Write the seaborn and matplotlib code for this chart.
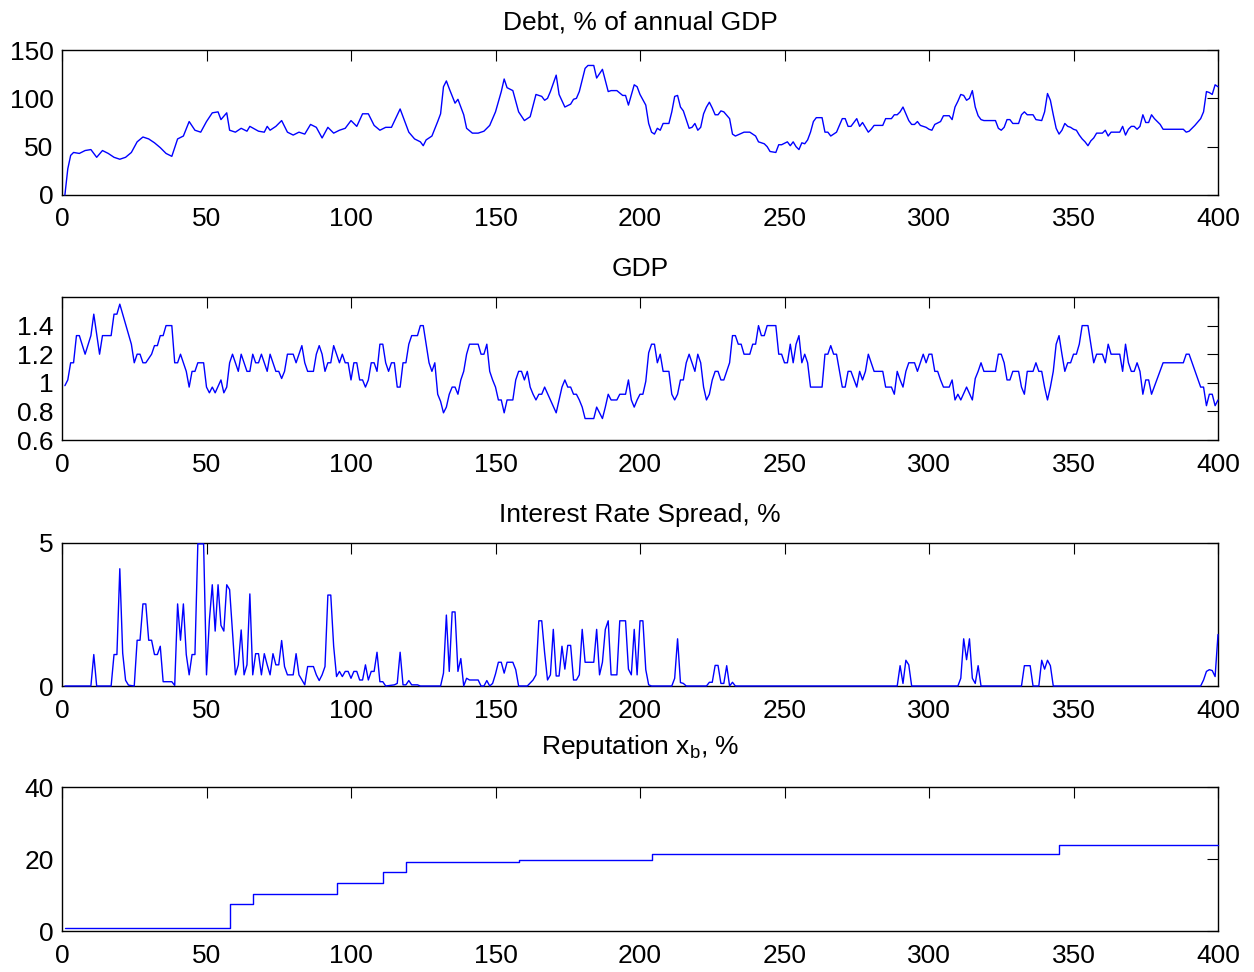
import numpy as np
import pandas as pd
import matplotlib
matplotlib.use("Agg")
import matplotlib.pyplot as plt
import seaborn as sns

# ---------------- data ----------------
debt_t = [1, 2, 3, 4, 6, 8, 10, 12, 14, 16,
          18, 20, 22, 24, 26, 28, 30, 32, 34, 36,
          38, 40, 42, 44, 46, 48, 50, 52, 54, 55,
          57, 58, 60, 62, 64, 65, 68, 70, 71, 72,
          74, 76, 78, 80, 82, 84, 86, 88, 90, 92,
          94, 96, 98, 100, 102, 104, 106, 108, 110, 112,
          114, 117, 118, 120, 122, 124, 125, 126, 128, 130,
          131, 132, 133, 134, 136, 137, 139, 140, 142, 144,
          146, 148, 150, 152, 153, 154, 156, 158, 160, 162,
          164, 166, 167, 168, 169, 171, 172, 174, 176, 177,
          178, 179, 181, 182, 184, 185, 187, 189, 190, 192,
          194, 195, 196, 198, 199, 200, 202, 203, 204, 205,
          206, 207, 208, 210, 211, 212, 213, 214, 215, 216,
          217, 218, 219, 220, 221, 222, 223, 224, 225, 226,
          227, 228, 229, 231, 232, 233, 236, 238, 240, 241,
          243, 244, 245, 247, 248, 249, 251, 252, 253, 254,
          255, 256, 257, 258, 259, 260, 261, 263, 264, 265,
          266, 268, 269, 270, 271, 272, 273, 275, 276, 277,
          278, 279, 280, 281, 284, 285, 287, 288, 289, 290,
          291, 292, 293, 294, 295, 296, 297, 299, 300, 301,
          302, 304, 305, 307, 308, 309, 310, 311, 312, 313,
          314, 315, 316, 317, 318, 319, 323, 324, 325, 326,
          327, 328, 329, 331, 332, 333, 334, 336, 337, 339,
          340, 341, 342, 343, 344, 345, 346, 347, 348, 349,
          350, 351, 352, 353, 354, 355, 356, 357, 358, 360,
          361, 362, 363, 366, 367, 368, 369, 370, 371, 372,
          373, 374, 375, 376, 377, 378, 380, 381, 388, 389,
          390, 392, 394, 395, 396, 397, 398, 399, 400]
debt = [0, 27, 41, 44, 43, 46, 47, 39, 46, 43,
        39, 37, 39, 44, 55, 60, 58, 54, 49, 43,
        40, 58, 61, 76, 67, 65, 76, 85, 86, 78,
        85, 67, 65, 69, 66, 71, 66, 65, 71, 67,
        71, 77, 65, 62, 65, 63, 73, 70, 59, 70,
        64, 67, 69, 77, 71, 84, 84, 72, 67, 70,
        70, 89, 81, 65, 58, 55, 51, 57, 61, 76,
        84, 112, 118, 110, 95, 99, 83, 69, 64, 64,
        66, 72, 86, 107, 120, 111, 108, 86, 77, 81,
        104, 102, 98, 100, 107, 124, 104, 91, 94, 99,
        100, 107, 131, 134, 134, 121, 130, 107, 108, 108,
        103, 103, 93, 114, 112, 104, 93, 74, 65, 63,
        69, 67, 74, 74, 86, 102, 103, 91, 87, 78,
        69, 70, 74, 67, 70, 84, 91, 96, 90, 83,
        83, 87, 86, 79, 63, 61, 65, 65, 61, 55,
        53, 50, 45, 44, 52, 52, 55, 51, 55, 50,
        47, 54, 53, 57, 65, 76, 80, 80, 65, 65,
        61, 65, 72, 79, 79, 71, 71, 79, 71, 75,
        70, 65, 68, 72, 72, 79, 79, 83, 83, 86,
        91, 84, 77, 73, 73, 76, 72, 70, 68, 67,
        73, 76, 82, 82, 78, 91, 97, 104, 103, 98,
        100, 108, 91, 82, 78, 77, 77, 69, 67, 70,
        78, 78, 74, 74, 83, 86, 83, 83, 78, 77,
        86, 105, 98, 83, 69, 63, 67, 74, 71, 70,
        68, 67, 62, 58, 55, 51, 56, 59, 64, 64,
        67, 61, 65, 65, 71, 62, 68, 71, 71, 68,
        71, 83, 75, 75, 83, 79, 73, 68, 68, 65,
        66, 72, 79, 86, 107, 106, 104, 114, 112]

gdp_t = [1, 2, 3, 4, 5, 6, 8, 10, 11, 13,
         14, 17, 18, 19, 20, 22, 24, 25, 26, 27,
         28, 29, 31, 32, 33, 34, 35, 36, 38, 39,
         40, 41, 43, 44, 45, 46, 47, 49, 50, 51,
         52, 53, 55, 56, 57, 58, 59, 61, 62, 64,
         65, 66, 67, 68, 69, 71, 72, 74, 75, 76,
         77, 78, 80, 81, 83, 84, 85, 87, 88, 89,
         90, 91, 92, 93, 94, 96, 97, 98, 99, 100,
         101, 102, 103, 104, 105, 106, 107, 108, 109, 110,
         111, 112, 113, 114, 115, 116, 117, 118, 119, 120,
         121, 123, 124, 125, 127, 128, 129, 130, 131, 132,
         133, 134, 135, 136, 137, 138, 139, 140, 141, 144,
         145, 146, 147, 148, 149, 150, 151, 152, 153, 154,
         156, 157, 158, 159, 160, 161, 162, 163, 164, 165,
         166, 167, 169, 171, 172, 173, 174, 175, 176, 177,
         178, 179, 180, 181, 184, 185, 186, 187, 188, 189,
         190, 192, 193, 195, 196, 197, 198, 199, 200, 201,
         202, 203, 204, 205, 206, 207, 208, 210, 211, 212,
         213, 214, 215, 216, 217, 218, 219, 220, 221, 222,
         223, 224, 225, 226, 227, 228, 229, 230, 231, 232,
         233, 234, 235, 236, 238, 239, 240, 241, 242, 243,
         244, 247, 248, 249, 250, 251, 252, 253, 254, 255,
         256, 257, 258, 259, 263, 264, 265, 266, 267, 268,
         270, 271, 272, 273, 275, 276, 277, 278, 279, 281,
         284, 285, 287, 288, 289, 290, 291, 292, 293, 295,
         296, 297, 298, 299, 300, 301, 302, 303, 304, 305,
         307, 308, 309, 310, 311, 313, 315, 316, 317, 318,
         319, 323, 324, 325, 326, 327, 328, 329, 331, 332,
         333, 334, 336, 337, 338, 339, 340, 341, 342, 343,
         344, 345, 346, 347, 348, 349, 350, 351, 352, 353,
         355, 356, 357, 358, 360, 361, 362, 363, 366, 367,
         368, 369, 370, 371, 372, 373, 374, 375, 376, 377,
         381, 388, 389, 390, 394, 395, 396, 397, 398, 399,
         400]
gdp = [0.98, 1.02, 1.14, 1.14, 1.33, 1.33, 1.20, 1.33, 1.48, 1.20,
       1.33, 1.33, 1.48, 1.48, 1.55, 1.41, 1.27, 1.14, 1.20, 1.20,
       1.14, 1.14, 1.20, 1.26, 1.26, 1.33, 1.33, 1.40, 1.40, 1.14,
       1.14, 1.20, 1.08, 0.97, 1.08, 1.08, 1.14, 1.14, 0.97, 0.93,
       0.97, 0.93, 1.02, 0.93, 0.97, 1.14, 1.20, 1.08, 1.20, 1.08,
       1.08, 1.20, 1.14, 1.14, 1.20, 1.08, 1.20, 1.08, 1.08, 1.03,
       1.08, 1.20, 1.20, 1.14, 1.26, 1.14, 1.08, 1.08, 1.20, 1.26,
       1.20, 1.08, 1.14, 1.14, 1.26, 1.14, 1.20, 1.14, 1.14, 1.02,
       1.14, 1.14, 1.02, 1.02, 0.97, 1.02, 1.14, 1.14, 1.08, 1.27,
       1.27, 1.14, 1.08, 1.14, 1.14, 0.97, 0.97, 1.14, 1.14, 1.27,
       1.33, 1.33, 1.40, 1.40, 1.14, 1.08, 1.14, 0.92, 0.87, 0.79,
       0.83, 0.92, 0.97, 0.97, 0.92, 1.02, 1.08, 1.20, 1.27, 1.27,
       1.20, 1.20, 1.27, 1.08, 1.02, 0.97, 0.88, 0.88, 0.79, 0.88,
       0.88, 1.02, 1.08, 1.08, 1.02, 1.08, 0.97, 0.92, 0.88, 0.92,
       0.92, 0.97, 0.88, 0.79, 0.88, 0.97, 1.02, 0.97, 0.97, 0.92,
       0.92, 0.88, 0.83, 0.75, 0.75, 0.83, 0.79, 0.75, 0.83, 0.92,
       0.88, 0.88, 0.92, 0.92, 1.02, 0.88, 0.83, 0.88, 0.92, 0.92,
       1.01, 1.21, 1.27, 1.27, 1.14, 1.20, 1.08, 1.08, 0.92, 0.88,
       0.92, 1.02, 1.02, 1.14, 1.20, 1.14, 1.08, 1.20, 1.14, 0.97,
       0.88, 0.92, 1.02, 1.08, 1.08, 1.02, 1.02, 1.08, 1.14, 1.33,
       1.33, 1.27, 1.27, 1.20, 1.20, 1.27, 1.27, 1.40, 1.33, 1.33,
       1.40, 1.40, 1.20, 1.20, 1.14, 1.14, 1.27, 1.14, 1.27, 1.33,
       1.14, 1.20, 1.14, 0.97, 0.97, 1.20, 1.20, 1.26, 1.20, 1.20,
       0.97, 0.97, 1.08, 1.08, 0.97, 1.08, 1.02, 1.08, 1.20, 1.08,
       1.08, 0.97, 0.97, 0.92, 1.08, 1.02, 0.97, 1.08, 1.14, 1.14,
       1.08, 1.14, 1.20, 1.14, 1.20, 1.20, 1.08, 1.08, 1.02, 0.97,
       0.97, 1.02, 0.88, 0.92, 0.88, 0.97, 0.88, 1.03, 1.08, 1.14,
       1.08, 1.08, 1.20, 1.20, 1.14, 1.02, 1.02, 1.08, 1.08, 0.97,
       0.92, 1.08, 1.08, 1.14, 1.08, 1.08, 0.97, 0.88, 0.97, 1.08,
       1.27, 1.33, 1.20, 1.08, 1.14, 1.14, 1.20, 1.20, 1.27, 1.40,
       1.40, 1.27, 1.14, 1.20, 1.20, 1.14, 1.27, 1.20, 1.20, 1.08,
       1.27, 1.14, 1.08, 1.08, 1.14, 1.08, 0.92, 1.02, 1.02, 0.92,
       1.14, 1.14, 1.20, 1.20, 0.97, 0.97, 0.84, 0.92, 0.92, 0.84,
       0.88]

spread_t = [1, 10, 11, 12, 17, 18, 19, 20, 21, 22,
            23, 25, 26, 27, 28, 29, 30, 31, 32, 33,
            34, 35, 38, 39, 40, 41, 42, 43, 44, 45,
            46, 47, 49, 50, 51, 52, 53, 54, 55, 56,
            57, 58, 60, 61, 62, 63, 64, 65, 66, 67,
            68, 69, 70, 71, 72, 73, 74, 75, 76, 77,
            78, 80, 81, 82, 84, 85, 87, 88, 89, 90,
            91, 92, 93, 94, 95, 96, 97, 98, 99, 100,
            101, 102, 103, 104, 105, 106, 107, 108, 109, 110,
            111, 112, 115, 116, 117, 118, 119, 120, 121, 123,
            124, 131, 132, 133, 134, 135, 136, 137, 138, 139,
            140, 141, 144, 145, 146, 147, 148, 149, 150, 151,
            152, 153, 154, 156, 157, 158, 161, 163, 164, 165,
            166, 167, 168, 169, 170, 171, 172, 173, 174, 175,
            176, 177, 178, 179, 180, 181, 184, 185, 186, 187,
            188, 189, 190, 192, 193, 195, 196, 197, 198, 199,
            200, 201, 202, 203, 204, 211, 212, 213, 214, 215,
            216, 223, 224, 225, 226, 227, 228, 229, 230, 231,
            232, 233, 289, 290, 291, 292, 293, 294, 310, 311,
            312, 313, 314, 315, 316, 317, 318, 332, 333, 335,
            336, 338, 339, 340, 341, 342, 343, 394, 395, 396,
            397, 398, 399, 400]
spread = [0, 0, 1.10, 0, 0, 1.10, 1.10, 4.10, 1.15, 0.2,
          0.03, 0, 1.6, 1.6, 2.87, 2.87, 1.6, 1.6, 1.1, 1.1,
          1.39, 0.15, 0.15, 0.02, 2.87, 1.6, 2.87, 1.1, 0.39, 1.1,
          1.1, 4.97, 4.97, 0.39, 2.3, 3.54, 1.92, 3.54, 2.12, 1.92,
          3.54, 3.37, 0.39, 0.74, 1.96, 0.39, 0.74, 3.22, 0.39, 1.13,
          1.13, 0.39, 1.13, 0.74, 0.39, 1.13, 0.74, 0.74, 1.59, 0.68,
          0.39, 0.39, 1.13, 0.39, 0.04, 0.68, 0.68, 0.39, 0.19, 0.39,
          0.68, 3.18, 3.18, 1.39, 0.33, 0.51, 0.33, 0.51, 0.51, 0.27,
          0.51, 0.51, 0.21, 0.21, 0.74, 0.21, 0.51, 0.51, 1.18, 0.15,
          0.15, 0, 0.04, 0.09, 1.18, 0.04, 0.04, 0.19, 0.04, 0.04,
          0, 0, 0.45, 2.48, 0.51, 2.59, 2.59, 0.51, 0.96, 0,
          0.27, 0.21, 0.21, 0, 0, 0.19, 0, 0.09, 0.42, 0.83,
          0.83, 0.45, 0.83, 0.83, 0.57, 0, 0, 0.21, 0.39, 2.28,
          2.28, 1.16, 0.21, 0.39, 1.98, 0.35, 0.35, 1.39, 0.59, 1.42,
          1.42, 0.21, 0.21, 0.39, 1.98, 0.83, 0.83, 1.98, 0.39, 0.83,
          1.98, 2.28, 0.39, 0.39, 2.28, 2.28, 0.59, 0.39, 1.98, 0.39,
          2.28, 2.28, 0.57, 0.04, 0, 0, 0.27, 1.65, 0.12, 0.09,
          0, 0, 0.13, 0.13, 0.72, 0.72, 0.09, 0.09, 0.71, 0,
          0.13, 0, 0, 0.71, 0.09, 0.9, 0.74, 0, 0, 0.27,
          1.65, 0.92, 1.65, 0.27, 0.09, 0.71, 0, 0, 0.71, 0.71,
          0, 0, 0.9, 0.59, 0.9, 0.71, 0, 0, 0.21, 0.51,
          0.57, 0.54, 0.33, 1.8]

rep_t = [1, 58, 66, 95, 111, 119, 158, 204, 345, 400]
rep = [0.7, 7.6, 10.3, 13.3, 16.3, 19.1, 19.7, 21.4, 23.8, 23.8]

titles = ["Debt, % of annual GDP", "GDP", "Interest Rate Spread, %",
          "Reputation x$_{\\mathrm{b}}$, %"]
title_pads = [15, 15, 15, 24]
x_ticks = [0, 50, 100, 150, 200, 250, 300, 350, 400]
y_ticks = [[0, 50, 100, 150], [0.6, 0.8, 1.0, 1.2, 1.4], [0, 5], [0, 20, 40]]
y_labels = [["0", "50", "100", "150"], ["0.6", "0.8", "1", "1.2", "1.4"],
            ["0", "5"], ["0", "20", "40"]]
y_lims = [(0, 150), (0.6, 1.6), (0, 5), (0, 40)]

# ---------------- styling ----------------
sns.set_theme(style="white")
plt.rcParams["font.family"] = ["Liberation Sans", "DejaVu Sans"]
plt.rcParams["mathtext.fontset"] = "custom"
plt.rcParams["mathtext.rm"] = "Liberation Sans"
plt.rcParams["mathtext.it"] = "Liberation Sans:italic"

FS = 19
fig = plt.figure(figsize=(12.54, 9.72), dpi=100)
W, H = 1254.0, 972.0
left = 62 / W
width = 1156 / W
boxes = [(50, 195), (297, 440), (543, 686), (787, 931)]

series = [(debt_t, debt, None), (gdp_t, gdp, None),
          (spread_t, spread, None), (rep_t, rep, "steps-post")]

for i, ((top, bot), (tt, vv, ds)) in enumerate(zip(boxes, series)):
    ax = fig.add_axes([left, 1 - bot / H, width, (bot - top) / H])
    df = pd.DataFrame({"t": tt, "v": vv})
    kw = {}
    if ds:
        kw["drawstyle"] = ds
    sns.lineplot(data=df, x="t", y="v", ax=ax, color="#0000ff",
                 linewidth=1.0, estimator=None, clip_on=False, **kw)
    ax.set_xlim(0, 400)
    ax.set_ylim(*y_lims[i])
    ax.set_xticks(x_ticks)
    ax.set_xticklabels([str(v) for v in x_ticks])
    ax.set_yticks(y_ticks[i])
    ax.set_yticklabels(y_labels[i])
    ax.set_xlabel("")
    ax.set_ylabel("")
    ax.set_title(titles[i], fontsize=FS, pad=title_pads[i], color="black")
    ax.tick_params(axis="both", direction="in", top=True, right=True,
                   length=8, width=0.8, color="black", labelsize=FS,
                   labelcolor="black")
    ax.tick_params(axis="x", pad=9)
    ax.tick_params(axis="y", pad=6)
    for s in ax.spines.values():
        s.set_visible(True)
        s.set_color("black")
        s.set_linewidth(1.0)
        s.set_zorder(0.5)
    ax.set_facecolor("white")

fig.savefig("out.png", dpi=100, facecolor="white")
